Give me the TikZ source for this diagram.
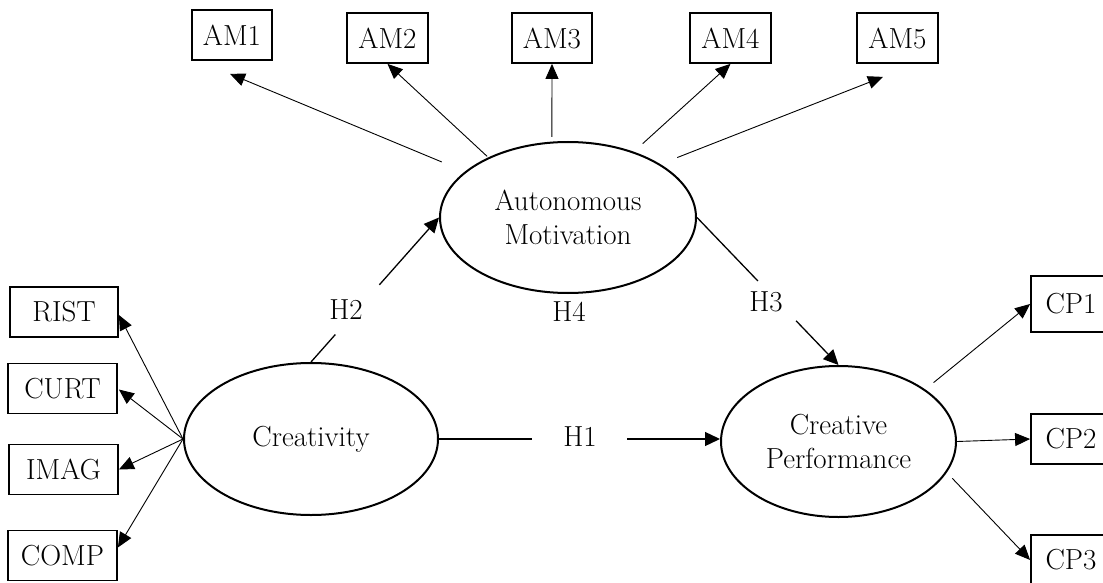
\documentclass[tikz,border=0pt]{standalone}
\usetikzlibrary{arrows.meta,shapes.geometric,calc}
\begin{document}
\begin{tikzpicture}[x=1pt,y=-1pt,
  every node/.style={font=\fontsize{29}{34}\selectfont},
  latent/.style={ellipse, draw, line width=2pt, align=center, inner sep=0pt},
  obs/.style={rectangle, draw, line width=1.8pt, minimum height=50pt, inner sep=0pt},
  load/.style={line width=0.9pt, -{Triangle[length=15pt,width=13pt]}},
  hyp/.style={line width=1.3pt},
  hyparrow/.style={line width=1.3pt, -{Triangle[length=15pt,width=14pt]}},
  lbl/.style={inner sep=0pt}]
\useasboundingbox (0,0) rectangle (1103,583);
\clip (0,0) rectangle (1103,583);
% latent variables
\node[latent, minimum width=256pt, minimum height=151pt] (am) at (568,217.5) {Autonomous\\Motivation};
\node[latent, minimum width=254pt, minimum height=152pt] (cre) at (311,439) {Creativity};
\node[latent, minimum width=235pt, minimum height=151pt] (cp) at (838.5,441.5) {Creative\\Performance};
% indicators
\node[obs, minimum width=80pt] (am1) at (232,35) {AM1};
\node[obs, minimum width=81pt] (am2) at (387.5,38) {AM2};
\node[obs, minimum width=80pt] (am3) at (552,38) {AM3};
\node[obs, minimum width=81pt] (am4) at (730.5,38) {AM4};
\node[obs, minimum width=81pt] (am5) at (897.5,38) {AM5};
\node[obs, minimum width=108pt] (rist) at (64,312) {RIST};
\node[obs, minimum width=109pt] (curt) at (62.5,388.5) {CURT};
\node[obs, minimum width=109pt] (imag) at (63.5,469.5) {IMAG};
\node[obs, minimum width=109pt] (comp) at (62.5,555.5) {COMP};
\node[obs, minimum width=80pt, minimum height=56pt] (cp1) at (1071,304) {CP1};
\node[obs, minimum width=80pt] (cp2) at (1071,439) {CP2};
\node[obs, minimum width=80pt] (cp3) at (1071,560) {CP3};
% loadings of autonomous motivation
\draw[load, shorten <=25pt] (am.156) -- ($(am1.south)+(-2,13)$);
\draw[load, shorten <=1.5pt] (am.143) -- (am2.south);
\draw[load, shorten <=4.7pt] (am.102) -- (am3.south);
\draw[load, shorten <=12pt] (am.45) -- (am4.south);
\draw[load, shorten <=18pt] (am.30.5) -- ($(am5.south)+(-14.5,13)$);
% loadings of creativity
\draw[load] (cre.west) -- ($(rist.east)+(0,3)$);
\draw[load] (cre.west) -- ($(curt.east)+(1,1)$);
\draw[load] (cre.west) -- (imag.east);
\draw[load] (cre.west) -- ($(comp.east)+(0,-8)$);
% loadings of creative performance
\draw[load, shorten <=10.7pt] (cp.31.3) -- (cp1.west);
\draw[load] (cp.east) -- (cp2.west);
\draw[load, shorten <=8pt] (cp.-16.3) -- (cp3.west);
% hypotheses
\draw[hyp] (cre.north) -- ($(cre.north)!0.19!(am.west)$);
\draw[hyparrow] ($(cre.north)!0.534!(am.west)$) -- (am.west);
\node[lbl] (h2) at (346,310) {H2};
\draw[hyp] (am.east) -- ($(am.east)!0.43!(cp.north)$);
\draw[hyparrow] ($(am.east)!0.70!(cp.north)$) -- (cp.north);
\node[lbl] (h3) at (766,302) {H3};
\coordinate (h1end) at (cre.east -| cp.west);
\draw[hyp] (cre.east) -- ($(cre.east)!0.33!(h1end)$);
\draw[hyparrow] ($(cre.east)!0.67!(h1end)$) -- (h1end);
\node[lbl] (h1) at (580,437) {H1};
\node[lbl] (h4) at (569,312) {H4};
\end{tikzpicture}
\end{document}
